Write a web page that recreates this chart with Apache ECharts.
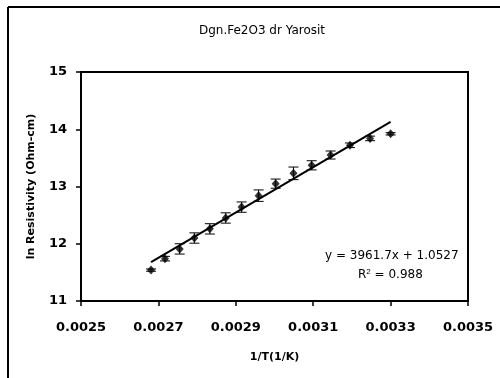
<!DOCTYPE html>
<html lang="en">
<head>
    <meta charset="UTF-8">
    <title>Dgn.Fe2O3 dr Yarosit</title>
    <script src="https://cdn.jsdelivr.net/npm/echarts@6/dist/echarts.min.js"></script>
    <style>
        html, body { margin: 0; padding: 0; background: #fff; }
        #chart { width: 500px; height: 378px; }
    </style>
</head>
<body>
<div id="chart"></div>
<script>
    // 1/T (1/K)
    var invT = [0.002681, 0.002717, 0.002755, 0.002793, 0.002833, 0.002874, 0.002915, 0.002959,
                0.003003, 0.003049, 0.003096, 0.003145, 0.003195, 0.003247, 0.003300];
    // ln resistivity
    var lnRes = [11.54, 11.74, 11.91, 12.10, 12.26, 12.45, 12.64, 12.84,
                 13.05, 13.23, 13.37, 13.55, 13.72, 13.84, 13.92];
    // error (+/-)
    var errs = [0.02, 0.04, 0.09, 0.09, 0.09, 0.09, 0.09, 0.10,
                0.08, 0.11, 0.08, 0.07, 0.04, 0.04, 0.02];
    // linear trendline end points
    var trendX = [0.002681, 0.003300];
    var trendY = [11.68, 14.13];
    var xTicks = [0.0025, 0.0027, 0.0029, 0.0031, 0.0033, 0.0035];

    var points = invT.map(function (x, i) { return [x, lnRes[i]]; });
    var bars = invT.map(function (x, i) { return [x, lnRes[i] - errs[i], lnRes[i] + errs[i]]; });
    var trend = trendX.map(function (x, i) { return [x, trendY[i]]; });

    var font = 'DejaVu Sans';
    var myChart = echarts.init(document.getElementById('chart'));
    var option = {
        animation: false,
        title: {
            text: 'Dgn.Fe2O3 dr Yarosit',
            left: 257,
            top: 20,
            textAlign: 'center',
            textStyle: { fontFamily: font, fontSize: 12, fontWeight: 'normal', color: '#000' }
        },
        graphic: [
            { type: 'line', shape: { x1: 8, y1: 7, x2: 500, y2: 7 }, style: { stroke: '#000', lineWidth: 2 } },
            { type: 'line', shape: { x1: 8, y1: 7, x2: 8, y2: 378 }, style: { stroke: '#000', lineWidth: 2 } },
            {
                type: 'text', left: 325, top: 250,
                style: { text: 'y = 3961.7x + 1.0527', font: '12px "DejaVu Sans"', fill: '#000' }
            },
            {
                type: 'text', left: 358, top: 268,
                style: {
                    text: 'R{sup|2} = 0.988', font: '12px "DejaVu Sans"', fill: '#000',
                    rich: { sup: { fontSize: 8, verticalAlign: 'top', padding: [0, 0, 6, 0] } }
                }
            }
        ],
        grid: {
            left: 81, right: 32, top: 72, bottom: 77,
            show: true, borderColor: '#000', borderWidth: 2
        },
        xAxis: {
            type: 'value',
            min: 0.0025, max: 0.0035,
            name: '1/T(1/K)',
            nameLocation: 'middle',
            nameGap: 51,
            nameTextStyle: { fontFamily: font, fontSize: 11, fontWeight: 'bold', color: '#000' },
            axisLine: { show: true, lineStyle: { color: '#000', width: 2 } },
            axisTick: { show: true, customValues: xTicks, length: 5, lineStyle: { color: '#000', width: 1.5 } },
            axisLabel: {
                customValues: xTicks, margin: 20,
                fontFamily: font, fontSize: 13, fontWeight: 'bold', color: '#000',
                formatter: function (v) { return v.toFixed(4); }
            },
            splitLine: { show: false }
        },
        yAxis: {
            type: 'value',
            min: 11, max: 15, interval: 1,
            name: 'ln Resistivity (Ohm-cm)',
            nameLocation: 'middle',
            nameGap: 44,
            nameTextStyle: { fontFamily: font, fontSize: 11, fontWeight: 'bold', color: '#000' },
            axisLine: { show: true, lineStyle: { color: '#000', width: 2 } },
            axisTick: { show: true, length: 5, lineStyle: { color: '#000', width: 1.5 } },
            axisLabel: { margin: 14, fontFamily: font, fontSize: 13, fontWeight: 'bold', color: '#000' },
            splitLine: { show: false }
        },
        series: [
            {
                type: 'custom',
                data: bars,
                z: 2,
                renderItem: function (params, api) {
                    var x = api.value(0);
                    var lo = api.coord([x, api.value(1)]);
                    var hi = api.coord([x, api.value(2)]);
                    var w = 5;
                    var st = { stroke: '#000', lineWidth: 1 };
                    return {
                        type: 'group',
                        children: [
                            { type: 'line', shape: { x1: lo[0], y1: lo[1], x2: hi[0], y2: hi[1] }, style: st },
                            { type: 'line', shape: { x1: lo[0] - w, y1: lo[1], x2: lo[0] + w, y2: lo[1] }, style: st },
                            { type: 'line', shape: { x1: hi[0] - w, y1: hi[1], x2: hi[0] + w, y2: hi[1] }, style: st }
                        ]
                    };
                }
            },
            {
                type: 'scatter',
                data: points,
                symbol: 'diamond',
                symbolSize: [8, 9],
                itemStyle: { color: '#000' },
                z: 3
            },
            {
                type: 'line',
                data: trend,
                symbol: 'none',
                lineStyle: { color: '#000', width: 2 },
                z: 4
            }
        ]
    };
    myChart.setOption(option);
</script>
</body>
</html>
